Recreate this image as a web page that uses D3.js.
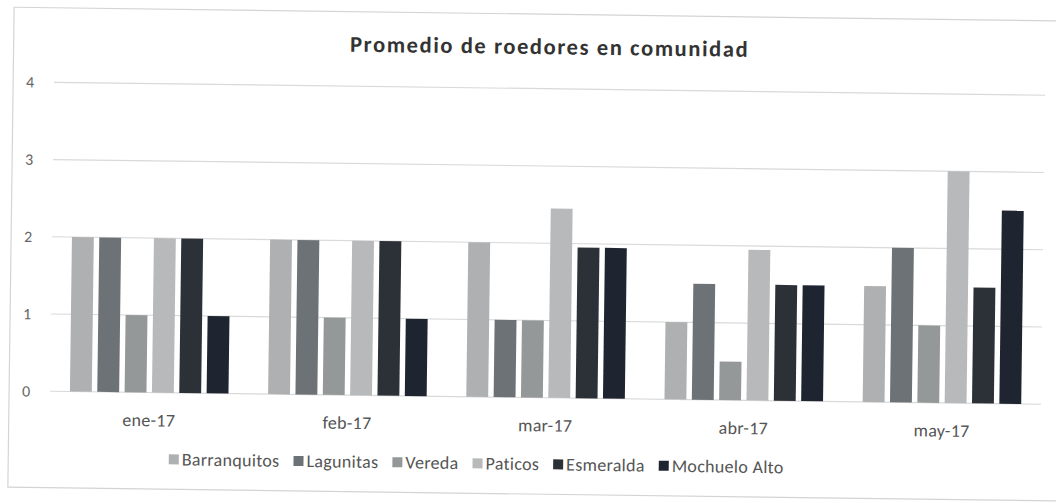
<!DOCTYPE html>
<html>
<head>
<meta charset="utf-8">
<script src="https://cdn.jsdelivr.net/npm/d3@7"></script>
<style>
  body { margin: 0; background: #fff; }
  text { font-family: Carlito, Calibri, Lato, "Open Sans", sans-serif; }
</style>
</head>
<body>
<div id="chart"></div>
<script>
// data
var months = ["ene-17", "feb-17", "mar-17", "abr-17", "may-17"];
var seriesNames = ["Barranquitos", "Lagunitas", "Vereda", "Paticos", "Esmeralda", "Mochuelo Alto"];
var barranquitos = [2, 2, 2, 1, 1.5];
var lagunitas = [2, 2, 1, 1.5, 2];
var vereda = [1, 1, 1, 0.5, 1];
var paticos = [2, 2, 2.45, 1.95, 3];
var esmeralda = [2, 2, 1.95, 1.5, 1.5];
var mochueloAlto = [1, 1, 1.95, 1.5, 2.5];
var yTicks = [0, 1, 2, 3, 4];
var seriesColors = ["#aeb0b2", "#6c7276", "#949899", "#b7b9bb", "#2c3138", "#1f2530"];

var allSeries = [barranquitos, lagunitas, vereda, paticos, esmeralda, mochueloAlto];

//setup: formating
var svgWidth = 1056;
var svgHeight = 503;
var margin = { top: 88.5, right: 13, bottom: 105.5, left: 52 };
var width = svgWidth - margin.left - margin.right;
var height = svgHeight - margin.top - margin.bottom;

var svg = d3.select("#chart")
  .append("svg")
  .attr("width", svgWidth)
  .attr("height", svgHeight);

// the scan is a bit tilted, so everything sits in one rotated group
var page = svg.append("g")
  .attr("transform", "rotate(0.75, 528, 250)");

page.append("rect")
  .attr("x", 11)
  .attr("y", 14)
  .attr("width", 1060)
  .attr("height", 480)
  .attr("fill", "none")
  .attr("stroke", "#d4d4d4")
  .attr("stroke-width", 1.2);

var chartGroup = page.append("g")
  .attr("transform", `translate(${margin.left}, ${margin.top})`);

var x0 = d3.scaleBand()
  .domain(months)
  .range([0, width])
  .paddingInner(0.2)
  .paddingOuter(0.1);

var x1 = d3.scaleBand()
  .domain(seriesNames)
  .range([0, x0.bandwidth()])
  .paddingInner(0.2);

var y = d3.scaleLinear()
  .domain([0, 4])
  .range([height, 0]);

// gridlines
chartGroup.append("g")
  .selectAll("line")
  .data(yTicks)
  .enter()
  .append("line")
  .attr("x1", 0)
  .attr("x2", width)
  .attr("y1", d => y(d))
  .attr("y2", d => y(d))
  .attr("stroke", "#d9d9d9")
  .attr("stroke-width", 1.2);

// y axis labels
var leftAxis = d3.axisLeft(y)
  .tickValues(yTicks)
  .tickFormat(d3.format("d"))
  .tickSize(0)
  .tickPadding(20);
chartGroup.append("g")
  .call(leftAxis)
  .call(g => g.select(".domain").remove())
  .selectAll("text")
  .attr("fill", "#666")
  .style("font-size", "16px");

// bars
var groups = chartGroup.selectAll("g.month")
  .data(months)
  .enter()
  .append("g")
  .attr("class", "month")
  .attr("transform", d => `translate(${x0(d)}, 0)`);

groups.selectAll("rect")
  .data((m, i) => seriesNames.map((s, j) => ({ name: s, value: allSeries[j][i], idx: j })))
  .enter()
  .append("rect")
  .attr("x", d => x1(d.name))
  .attr("y", d => y(d.value))
  .attr("width", x1.bandwidth())
  .attr("height", d => height - y(d.value))
  .attr("fill", d => seriesColors[d.idx]);

// x axis labels
var bottomAxis = d3.axisBottom(x0).tickSize(0).tickPadding(21);
chartGroup.append("g")
  .attr("transform", `translate(0, ${height})`)
  .call(bottomAxis)
  .call(g => g.select(".domain").remove())
  .selectAll("text")
  .attr("fill", "#555")
  .style("font-size", "18px")
  .style("letter-spacing", "0.3px");

// title
page.append("text")
  .attr("x", 547)
  .attr("y", 54)
  .attr("text-anchor", "middle")
  .attr("fill", "#333")
  .style("font-size", "22.5px")
  .style("font-weight", "bold")
  .style("letter-spacing", "1.6px")
  .text("Promedio de roedores en comunidad");

// legend
var legend = page.append("g");
var lx = 0;
seriesNames.forEach(function(name, i) {
  var item = legend.append("g");
  item.append("rect")
    .attr("x", 0)
    .attr("y", -11)
    .attr("width", 10)
    .attr("height", 10)
    .attr("fill", seriesColors[i]);
  var t = item.append("text")
    .attr("x", 13)
    .attr("y", 0)
    .attr("fill", "#555")
    .style("font-size", "18px")
    .style("letter-spacing", "0.3px")
    .text(name);
  item.attr("transform", `translate(${lx}, 0)`);
  lx += 13 + t.node().getComputedTextLength() + 14;
});
legend.attr("transform", `translate(${479 - (lx - 14) / 2}, 470)`);
</script>
</body>
</html>
